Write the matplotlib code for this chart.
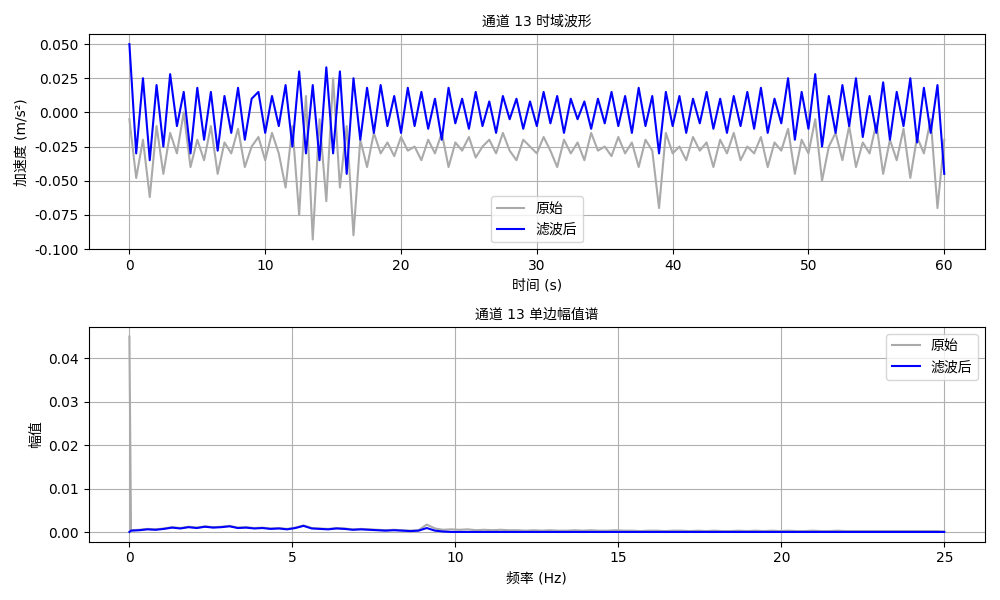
import numpy as np
import matplotlib
matplotlib.use("Agg")
import matplotlib.pyplot as plt

plt.rcParams['font.family'] = ['DejaVu Sans', 'Noto Sans CJK SC']
plt.rcParams['axes.unicode_minus'] = False

# time-domain samples, every 0.5 s from 0 to 60
raw = [-0.005,-0.048,-0.020,-0.062,-0.010,-0.045,-0.015,-0.030,0.000,-0.040,
       -0.020,-0.035,-0.010,-0.045,-0.022,-0.030,-0.012,-0.040,-0.025,-0.018,
       -0.035,-0.015,-0.030,-0.055,-0.010,-0.075,0.012,-0.093,-0.005,-0.065,
       0.025,-0.055,-0.010,-0.090,-0.020,-0.040,-0.015,-0.030,-0.022,-0.032,
       -0.018,-0.028,-0.025,-0.035,-0.020,-0.030,-0.015,-0.040,-0.022,-0.028,
       -0.018,-0.033,-0.025,-0.020,-0.030,-0.015,-0.028,-0.035,-0.020,-0.025,
       -0.030,-0.018,-0.028,-0.040,-0.020,-0.030,-0.022,-0.035,-0.015,-0.028,
       -0.025,-0.032,-0.018,-0.030,-0.022,-0.040,-0.020,-0.028,-0.070,-0.015,
       -0.030,-0.025,-0.035,-0.018,-0.028,-0.022,-0.040,-0.020,-0.030,-0.015,
       -0.035,-0.025,-0.030,-0.018,-0.040,-0.022,-0.028,-0.012,-0.045,-0.020,
       -0.030,-0.005,-0.050,-0.025,-0.015,-0.035,-0.010,-0.040,-0.022,-0.030,
       -0.008,-0.045,-0.020,-0.035,-0.012,-0.048,-0.018,-0.030,-0.005,-0.070,
       -0.020]
filt = [0.050,-0.030,0.025,-0.035,0.020,-0.025,0.028,-0.010,0.015,-0.030,
        0.018,-0.020,0.015,-0.028,0.012,-0.015,0.018,-0.020,0.010,0.015,
        -0.015,0.012,-0.010,0.020,-0.025,0.030,-0.030,0.020,-0.035,0.033,
        -0.030,0.030,-0.045,0.025,-0.020,0.018,-0.015,0.020,-0.010,0.012,
        -0.015,0.018,-0.010,0.015,-0.012,0.010,-0.020,0.018,-0.008,0.010,
        -0.012,0.015,-0.010,0.008,-0.015,0.012,-0.005,0.010,-0.012,0.008,
        -0.010,0.015,-0.008,0.012,-0.015,0.010,-0.005,0.008,-0.012,0.010,
        -0.008,0.015,-0.010,0.012,-0.015,0.018,-0.010,0.012,-0.030,0.015,
        -0.010,0.012,-0.015,0.010,-0.008,0.015,-0.012,0.010,-0.015,0.012,
        -0.010,0.015,-0.012,0.018,-0.015,0.010,-0.008,0.025,-0.020,0.015,
        -0.012,0.028,-0.025,0.012,-0.015,0.020,-0.010,0.025,-0.018,0.012,
        -0.015,0.022,-0.020,0.015,-0.010,0.025,-0.022,0.018,-0.015,0.020,
        -0.045]
t = np.linspace(0, 60, len(raw))

# spectrum values
spec_raw = [0.045,0.0005,0.0006,0.0008,0.0007,0.0009,0.0012,0.0010,0.0013,0.0011,
            0.0014,0.0012,0.0013,0.0015,0.0011,0.0012,0.0010,0.0011,0.0009,0.0010,
            0.0008,0.0011,0.0016,0.0010,0.0009,0.0008,0.0010,0.0009,0.0007,0.0008,
            0.0007,0.0006,0.0005,0.0006,0.0005,0.0004,0.0005,0.0018,0.0009,0.0006,
            0.0007,0.0006,0.0007,0.0005,0.0006,0.0005,0.0006,0.0005,0.0005,0.0004,
            0.0005,0.0004,0.0005,0.0004,0.0004,0.0005,0.0004,0.0005,0.0004,0.0004,
            0.0005,0.0004,0.0004,0.0003,0.0004,0.0004,0.0003,0.0004,0.0004,0.0003,
            0.0004,0.0003,0.0004,0.0003,0.0003,0.0004,0.0003,0.0004,0.0003,0.0004,
            0.0003,0.0004,0.0003,0.0003,0.0004,0.0003,0.0003,0.0004,0.0003,0.0003,
            0.0003,0.0003,0.0003,0.0003,0.0003,0.0003,0.0003,0.0003,0.0003,0.0003,0.0002]
spec_filt = [0.0001,0.0004,0.0005,0.0007,0.0006,0.0008,0.0011,0.0009,0.0012,0.0010,
             0.0013,0.0011,0.0012,0.0014,0.0010,0.0011,0.0009,0.0010,0.0008,0.0009,
             0.0007,0.0010,0.0015,0.0009,0.0008,0.0007,0.0009,0.0008,0.0006,0.0007,
             0.0006,0.0005,0.0004,0.0005,0.0004,0.0003,0.0004,0.0010,0.0004,0.0002,
             0.0001,0.0001,0.0001,0.0001,0.0001,0.0001,0.0001,0.0001,0.0001,0.0001,
             0.0001,0.0001,0.0001,0.0001,0.0001,0.0001,0.0001,0.0001,0.0001,0.0001,
             0.0001,0.0001,0.0001,0.0001,0.0001,0.0001,0.0001,0.0001,0.0001,0.0001,
             0.0001,0.0001,0.0001,0.0001,0.0001,0.0001,0.0001,0.0001,0.0001,0.0001,
             0.0001,0.0001,0.0001,0.0001,0.0001,0.0001,0.0001,0.0001,0.0001,0.0001,
             0.0001,0.0001,0.0001,0.0001,0.0001,0.0001,0.0001,0.0001,0.0001,0.0001,0.0001]
f = np.r_[0.0, np.linspace(0.05, 25, len(spec_raw) - 1)]

fig, (ax1, ax2) = plt.subplots(2, 1, figsize=(10, 6), dpi=100)
ax1.plot(t, raw, color='#aaaaaa', lw=1.5, label='原始')
ax1.plot(t, filt, color='blue', lw=1.5, label='滤波后')
ax1.set_title('通道 13 时域波形', fontsize=10)
ax1.set_xlabel('时间 (s)')
ax1.set_ylabel('加速度 (m/s²)')
ax1.grid(True)
ax1.legend(loc='lower center')

ax2.plot(f, spec_raw, color='#aaaaaa', lw=1.5, label='原始')
ax2.plot(f, spec_filt, color='blue', lw=1.5, label='滤波后')
ax2.set_title('通道 13 单边幅值谱', fontsize=10)
ax2.set_xlabel('频率 (Hz)')
ax2.set_ylabel('幅值')
ax2.grid(True)
ax2.legend(loc='upper right')

fig.tight_layout()
fig.savefig('out.png')
